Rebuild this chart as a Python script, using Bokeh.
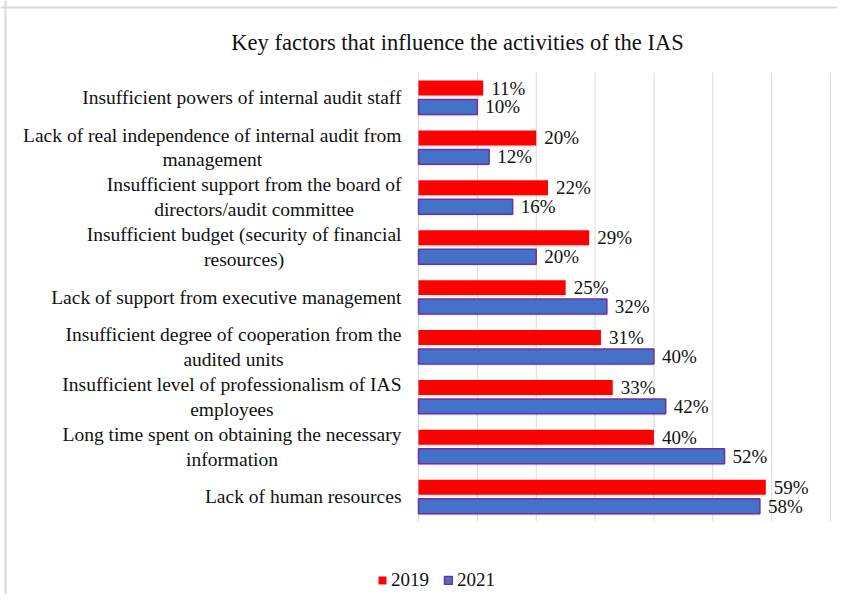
from bokeh.plotting import figure
from bokeh.models import ColumnDataSource, Range1d, Label, Legend, LegendItem, Span
from bokeh.transform import dodge
from bokeh.core.properties import value
from bokeh.embed import file_html
from bokeh.resources import INLINE

categories = [
    "Insufficient powers of internal audit staff",
    "Lack of real independence of internal audit from\nmanagement",
    "Insufficient support from the board of\ndirectors/audit committee",
    "Insufficient budget (security of financial\nresources)",
    "Lack of support from executive management",
    "Insufficient degree of cooperation from the\naudited units",
    "Insufficient level of professionalism of IAS\nemployees",
    "Long time spent on obtaining the necessary\ninformation",
    "Lack of human resources",
]
values_2019 = [11, 20, 22, 29, 25, 31, 33, 40, 59]
values_2021 = [10, 12, 16, 20, 32, 40, 42, 52, 58]
grid_ticks = [0, 10, 20, 30, 40, 50, 60, 70]
title_text = "Key factors that influence the activities of the IAS"

FONT = "Liberation Serif"
W, H = 837, 594
PX_X = 5.886   # pixels per percentage point
X0 = 418       # pixel position of 0%
PX_Y = 49.9    # pixels per category
Y0 = 97        # pixel centre of first category

x_start, x_end = -X0 / PX_X, (W - X0) / PX_X
y_top, y_bottom = -Y0 / PX_Y, (H - Y0) / PX_Y

idx = list(range(len(categories)))
src = ColumnDataSource(dict(
    idx=idx,
    cat=categories,
    v19=values_2019,
    v21=values_2021,
    l19=[f"{v}%" for v in values_2019],
    l21=[f"{v}%" for v in values_2021],
    zero=[0] * len(categories),
))

p = figure(width=W, height=H, x_range=Range1d(x_start, x_end),
           y_range=Range1d(y_bottom, y_top), min_border=0,
           toolbar_location=None, output_backend="svg")
p.axis.visible = False
p.xgrid.visible = False
p.ygrid.visible = False
p.outline_line_color = None
p.background_fill_color = "white"
p.border_fill_color = "white"

# chart-area border (top and left visible in reference)
p.add_layout(Span(location=(7 - Y0) / PX_Y, dimension="width", line_color="#d9d9d9", line_width=2))
p.add_layout(Span(location=(5 - X0) / PX_X, dimension="height", line_color="#d9d9d9", line_width=2))

# vertical gridlines
p.segment(x0=grid_ticks, x1=grid_ticks, y0=[-0.5] * len(grid_ticks),
          y1=[len(categories) - 0.5] * len(grid_ticks),
          line_color="#d9d9d9", line_width=1)

# soft shadows
p.hbar(y=dodge("idx", -0.19 + 0.04, range=p.y_range), left="zero", right="v19", height=0.30,
       source=src, fill_color="#000000", fill_alpha=0.08, line_color=None)
p.hbar(y=dodge("idx", 0.19 + 0.04, range=p.y_range), left="zero", right="v21", height=0.30,
       source=src, fill_color="#000000", fill_alpha=0.08, line_color=None)

r19 = p.hbar(y=dodge("idx", -0.19, range=p.y_range), left="zero", right="v19", height=0.30,
             source=src, fill_color="#FF0000", line_color=None)
r21 = p.hbar(y=dodge("idx", 0.19, range=p.y_range), left="zero", right="v21", height=0.30,
             source=src, fill_color="#4472C8", line_color="#7030A0", line_width=1.5)

# value labels
p.text(x="v19", y=dodge("idx", -0.19, range=p.y_range), text="l19", source=src,
       x_offset=8, text_align="left", text_baseline="middle",
       text_font=value(FONT), text_font_size="19px", text_color="#111111")
p.text(x="v21", y=dodge("idx", 0.19, range=p.y_range), text="l21", source=src,
       x_offset=8, text_align="left", text_baseline="middle",
       text_font=value(FONT), text_font_size="19px", text_color="#111111")

# category labels
p.text(x="zero", y="idx", text="cat", source=src, x_offset=-17,
       anchor="center_right", text_align="center", text_baseline="middle",
       text_line_height=1.18,
       text_font=value(FONT), text_font_size="19.5px", text_color="#111111")

# title
p.add_layout(Label(x=457, y=H - 42, x_units="screen", y_units="screen",
                   text=title_text, text_align="center", text_baseline="middle",
                   text_font=FONT, text_font_size="22.5px", text_color="#111111"))

legend = Legend(items=[LegendItem(label="2019", renderers=[r19]),
                       LegendItem(label="2021", renderers=[r21])],
                orientation="horizontal", location=(377, H - 581 - 10),
                background_fill_alpha=0, border_line_color=None,
                padding=0, margin=0, glyph_width=10, glyph_height=10,
                label_standoff=4, spacing=14, label_height=20,
                label_text_font=FONT, label_text_font_size="19px",
                label_text_color="#111111")
p.add_layout(legend)

open("out.html", "w").write(file_html(p, INLINE))
